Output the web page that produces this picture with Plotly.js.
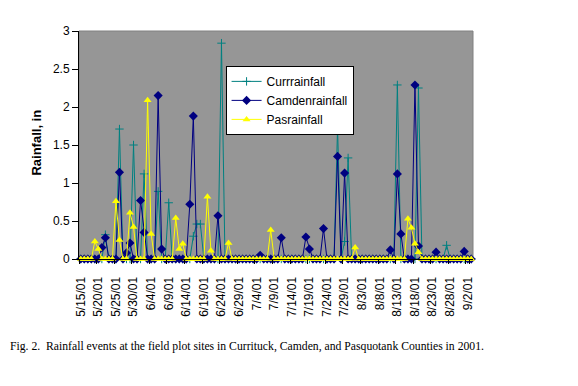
<!DOCTYPE html>
<html><head><meta charset="utf-8">
<script src="https://cdn.plot.ly/plotly-3.0.1.min.js"></script>
<style>html,body{margin:0;padding:0;background:#fff;}#chart{width:578px;height:386px;}</style>
</head><body><div id="chart"></div>
<script>
const dates = [
"5/15/01","5/16/01","5/17/01","5/18/01","5/19/01","5/20/01","5/21/01","5/22/01","5/23/01","5/24/01",
"5/25/01","5/26/01","5/27/01","5/28/01","5/29/01","5/30/01","5/31/01","6/1/01","6/2/01","6/3/01",
"6/4/01","6/5/01","6/6/01","6/7/01","6/8/01","6/9/01","6/10/01","6/11/01","6/12/01","6/13/01",
"6/14/01","6/15/01","6/16/01","6/17/01","6/18/01","6/19/01","6/20/01","6/21/01","6/22/01","6/23/01",
"6/24/01","6/25/01","6/26/01","6/27/01","6/28/01","6/29/01","6/30/01","7/1/01","7/2/01","7/3/01",
"7/4/01","7/5/01","7/6/01","7/7/01","7/8/01","7/9/01","7/10/01","7/11/01","7/12/01","7/13/01",
"7/14/01","7/15/01","7/16/01","7/17/01","7/18/01","7/19/01","7/20/01","7/21/01","7/22/01","7/23/01",
"7/24/01","7/25/01","7/26/01","7/27/01","7/28/01","7/29/01","7/30/01","7/31/01","8/1/01","8/2/01",
"8/3/01","8/4/01","8/5/01","8/6/01","8/7/01","8/8/01","8/9/01","8/10/01","8/11/01","8/12/01",
"8/13/01","8/14/01","8/15/01","8/16/01","8/17/01","8/18/01","8/19/01","8/20/01","8/21/01","8/22/01",
"8/23/01","8/24/01","8/25/01","8/26/01","8/27/01","8/28/01","8/29/01","8/30/01","8/31/01","9/1/01",
"9/2/01","9/3/01"];

const tickLabels = ["5/15/01","5/20/01","5/25/01","5/30/01","6/4/01","6/9/01","6/14/01","6/19/01","6/24/01",
"6/29/01","7/4/01","7/9/01","7/14/01","7/19/01","7/24/01","7/29/01","8/3/01","8/8/01","8/13/01","8/18/01",
"8/23/01","8/28/01","9/2/01"];

const currRainfall = [
0,0,0,0,0,0,0,0.32,0,0,
0,1.71,0,0,0,1.50,0,0,1.12,0,
0,0,0.89,0,0,0.74,0,0,0,0,
0,0,0.30,0.46,0.46,0,0,0,0,0,
2.84,0,0,0,0,0,0,0,0,0,
0,0,0,0,0,0,0,0,0,0,
0,0,0,0,0,0,0,0,0,0,
0,0,0,1.73,0,0.23,1.33,0,0,0,
0,0,0,0,0,0,0,0,0,0,
2.29,0,0,0,0,0,2.25,0,0,0,
0,0,0,0,0.18,0,0,0,0,0,
0,0];

const camdenRainfall = [
0,0,0,0,0,0,0.15,0.28,0,0,
0,1.14,0,0.08,0.21,0,0,0.77,0.35,0,
0,0,2.15,0.13,0,0,0,0,0,0,
0,0.72,1.88,0,0,0,0,0,0,0.57,
0,0,0,0,0,0,0,0,0,0,
0,0.05,0,0,0,0,0,0.28,0,0,
0,0,0,0,0.29,0.13,0,0,0,0.40,
0,0,0,1.35,0,1.13,0,0,0,0,
0,0,0,0,0,0,0,0,0.12,0,
1.12,0.33,0,0,0,2.29,0.17,0,0,0,
0,0.09,0,0,0,0,0,0,0,0.10,
0,0];

const pasRainfall = [
0,0,0,0,0.23,0.13,0,0,0,0,
0.76,0.25,0,0,0.61,0.42,0,0,0,2.09,
0.33,0,0,0,0,0,0,0.54,0.13,0.20,
0,0,0,0,0,0,0.82,0.11,0,0,
0,0,0.21,0,0,0,0,0,0,0,
0,0,0,0,0.38,0,0,0,0,0,
0,0,0,0,0,0,0,0,0,0,
0,0,0,0,0,0,0,0,0.15,0,
0,0,0,0,0,0,0,0,0,0,
0,0,0,0.53,0.41,0.20,0.09,0,0,0,
0,0,0,0,0,0,0,0,0,0,
0,0];

const yTicks = [0,0.5,1,1.5,2,2.5,3];
const yTickText = ["0","0.5","1","1.5","2","2.5","3"];

const traces = [
 {x: dates, y: currRainfall, name: "Currrainfall", type: "scatter", mode: "lines+markers", cliponaxis: false,
  line: {color: "#008080", width: 1}, marker: {symbol: "cross-thin-open", size: 6, line: {color: "#008080", width: 1}, color: "#008080"}},
 {x: dates, y: camdenRainfall, name: "Camdenrainfall", type: "scatter", mode: "lines+markers", cliponaxis: false,
  line: {color: "#000080", width: 1}, marker: {symbol: "diamond", size: 7, color: "#000080"}},
 {x: dates, y: pasRainfall, name: "Pasrainfall", type: "scatter", mode: "lines+markers", cliponaxis: false,
  line: {color: "#FFFF00", width: 1}, marker: {symbol: "triangle-up", size: 7, color: "#FFFF00"}}
];

const layout = {
 width: 578, height: 386,
 margin: {l: 79, r: 105, t: 31, b: 127, pad: 0},
 paper_bgcolor: "#ffffff", plot_bgcolor: "#969696",
 font: {family: "Liberation Sans, Arial, sans-serif", size: 12, color: "#000"},
 showlegend: true,
 legend: {x: 0.372, y: 0.847, xanchor: "left", yanchor: "top", bgcolor: "#ffffff",
   bordercolor: "#000000", borderwidth: 1, font: {size: 12, family: "Liberation Sans, Arial, sans-serif"},
   tracegroupgap: 0, itemwidth: 30},
 xaxis: {type: "category", range: [-0.5, 111.5], tickson: "boundaries", tickmode: "array", tickvals: tickLabels,
   ticktext: tickLabels, tickangle: -90, ticks: "outside", ticklen: 4, tickcolor: "#000", showgrid: false,
   showline: true, linecolor: "#000", linewidth: 1, zeroline: false, ticklabelstandoff: 12,
   tickfont: {size: 12}, fixedrange: true},
 yaxis: {range: [0, 3], tickmode: "array", tickvals: yTicks, ticktext: yTickText, ticks: "outside", ticklen: 6,
   tickcolor: "#000", showgrid: false, showline: true, linecolor: "#000", linewidth: 1, zeroline: false,
   tickfont: {size: 12}, fixedrange: true},
 shapes: [{type: "rect", xref: "paper", yref: "paper", x0: 0, x1: 1, y0: 0, y1: 1,
   line: {color: "#808080", width: 1}, layer: "below"}],
 annotations: [
  {text: "<b>Rainfall, in</b>", xref: "paper", yref: "paper", x: -0.107, y: 0.51, xanchor: "center", yanchor: "middle",
   textangle: -90, showarrow: false, font: {size: 13, family: "Liberation Sans, Arial, sans-serif"}},
  {text: "Fig. 2.\u00a0 Rainfall events at the field plot sites in Currituck, Camden, and Pasquotank Counties in 2001.",
   xref: "paper", yref: "paper", x: -0.181, y: -0.384, xanchor: "left", yanchor: "middle", showarrow: false,
   font: {size: 11.7, family: "Liberation Serif, Times New Roman, serif"}}
 ]
};

Plotly.newPlot("chart", traces, layout, {displayModeBar: false, staticPlot: true});
</script>
</body></html>
